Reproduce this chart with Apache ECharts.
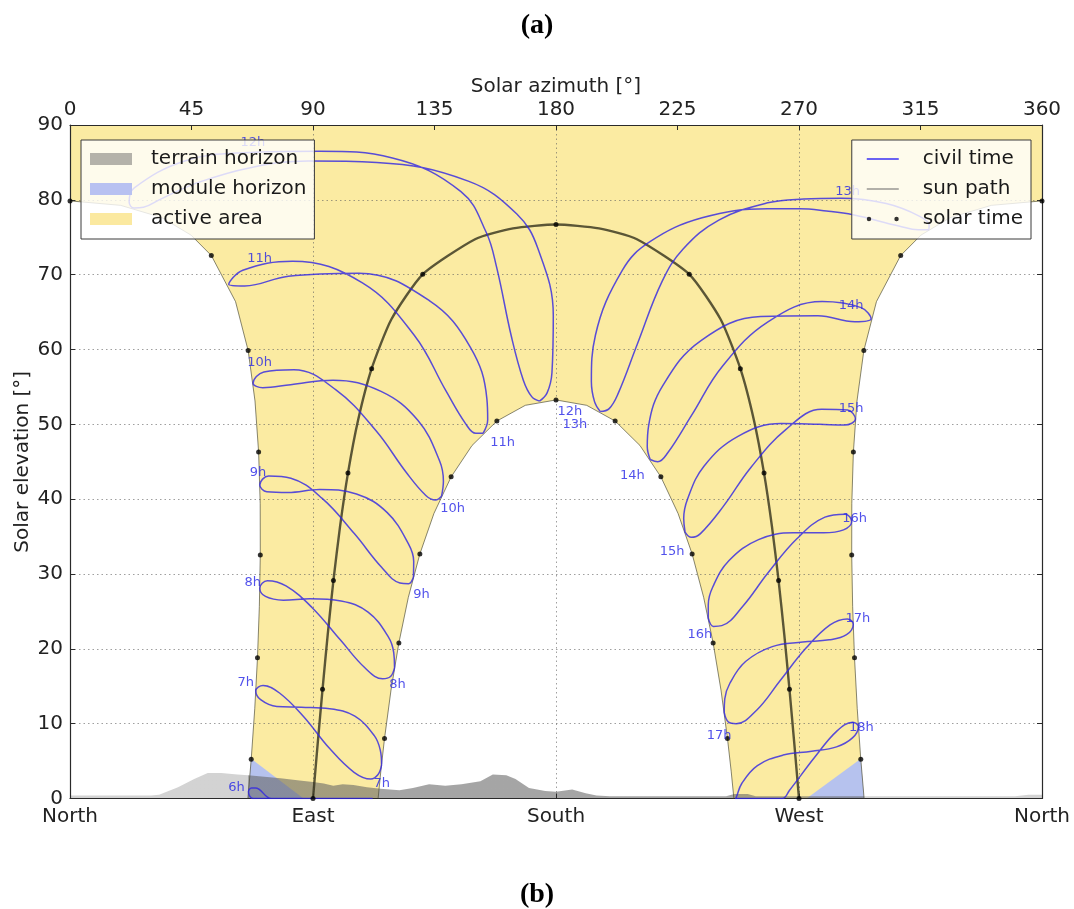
<!DOCTYPE html>
<html>
<head>
<meta charset="utf-8">
<title>Sun path diagram with civil time analemmas</title>
<script src="https://cdn.jsdelivr.net/npm/echarts@6/dist/echarts.min.js"></script>
<style>
  html, body { margin: 0; padding: 0; background: #fff; }
  #chart { width: 1074px; height: 909px; }
</style>
</head>
<body>
<div id="chart"></div>
<script>
// bottom axis compass names (every 90 deg) and top axis ticks (every 45 deg)
var compassNames = ['North', 'East', 'South', 'West', 'North'];

// sun paths [azimuth, elevation] : summer solstice (split at north), equinox, winter solstice
var summerMorning = [[65.88,0],[67.12,5.25],[68.43,12.01],[69.44,18.82],[70.13,25.67],[70.48,32.55],[70.44,39.43],[69.86,46.29],[68.52,53.12],[65.98,59.86],[61.31,66.40],[52.34,72.56],[44.81,75.29],[33.96,77.63],[18.77,79.26],[0,79.86]];
var summerAfternoon = [[360,79.86],[341.23,79.26],[326.04,77.63],[315.19,75.29],[307.66,72.56],[298.69,66.40],[294.02,59.86],[291.48,53.12],[290.14,46.29],[289.56,39.43],[289.52,32.55],[289.87,25.67],[290.56,18.82],[291.57,12.01],[292.88,5.25],[294.12,0]];
var equinoxPath = [[90,0],[91.73,7.30],[93.53,14.59],[95.44,21.86],[97.56,29.12],[100.01,36.33],[102.95,43.48],[106.69,50.55],[111.72,57.44],[119.04,64.04],[130.64,70.05],[150.21,74.77],[164.09,76.19],[180,76.70],[195.91,76.19],[209.79,74.77],[229.36,70.05],[240.96,64.04],[248.28,57.44],[253.31,50.55],[257.05,43.48],[259.99,36.33],[262.44,29.12],[264.56,21.86],[266.47,14.59],[268.27,7.30],[270,0]];
var winterPath = [[114.12,0],[115.12,3.65],[116.49,8.02],[118.89,14.49],[121.80,20.79],[125.31,26.88],[129.58,32.68],[134.79,38.09],[141.16,42.98],[148.90,47.17],[158.10,50.44],[168.64,52.54],[180,53.26],[191.36,52.54],[201.90,50.44],[211.10,47.17],[218.84,42.98],[225.21,38.09],[230.42,32.68],[234.69,26.88],[238.20,20.79],[241.11,14.49],[243.51,8.02],[244.88,3.65],[245.88,0]];

// solar time dots (whole solar hours on the three sun paths)
var summerDots = [[67.12,5.25],[69.44,18.82],[70.48,32.55],[69.86,46.29],[65.98,59.86],[52.34,72.56],[0,79.86],[360,79.86],[307.66,72.56],[294.02,59.86],[290.14,46.29],[289.52,32.55],[290.56,18.82],[292.88,5.25]];
var equinoxDots = [[90,0],[93.53,14.59],[97.56,29.12],[102.95,43.48],[111.72,57.44],[130.64,70.05],[180,76.70],[229.36,70.05],[248.28,57.44],[257.05,43.48],[262.44,29.12],[266.47,14.59],[270,0]];
var winterDots = [[116.49,8.02],[121.80,20.79],[129.58,32.68],[141.16,42.98],[158.10,50.44],[180,53.26],[201.90,50.44],[218.84,42.98],[230.42,32.68],[238.20,20.79],[243.51,8.02]];

// terrain horizon profile [azimuth, elevation]
var terrainHorizon = [[0,0.4],[30,0.4],[33,0.5],[40,1.5],[46,2.6],[51,3.4],[56,3.4],[62,3.2],[66,3.1],[72,2.9],[78,2.7],[85,2.4],[90,2.2],[94,2.0],[97.5,1.7],[101,1.9],[105,1.8],[110,1.5],[115,1.3],[122,1.1],[127,1.4],[133,1.9],[139,1.7],[145,1.9],[152,2.3],[156.6,3.2],[161.6,3.1],[165,2.6],[170,1.4],[176,1.0],[180,0.9],[186,1.2],[191,0.7],[195,0.4],[200,0.3],[243,0.3],[246,0.6],[251,0.6],[254,0.3],[350,0.3],[355,0.5],[360,0.5]];

// module horizon (visible parts inside the active area)
var moduleHorizonEast = [[65.88,0],[67.1,5.3],[86.5,0]];
var moduleHorizonWest = [[272.8,0],[292.9,5.3],[294.12,0]];

// civil time analemmas, one loop per clock hour, starting at the winter solstice
var h06 = [[112.1,0],[111.0,0],[108.3,0],[101.9,0],[92.7,0],[83.0,0],[74.6,0],[68.7,1.4],[67.2,1.4],[66.1,0.9],[67.8,0],[73.5,0],[82.4,0],[92.6,0],[101.8,0],[109.1,0],[111.5,0]];
var h07 = [[115.4,4.5],[114.1,3.2],[111.4,2.6],[105.2,3.5],[96.1,6.7],[86.4,11.0],[77.6,14.1],[71.5,15.1],[68.8,14.4],[70.6,13.2],[76.6,12.3],[85.7,12.2],[96.2,12.0],[105.5,11.0],[112.7,8.4],[114.9,6.5]];
var h08 = [[120.2,17.5],[118.7,16.3],[115.8,16.0],[109.4,17.4],[100.1,21.2],[89.7,25.5],[80.0,28.4],[73.1,29.1],[70.3,28.1],[72.4,27.0],[79.0,26.5],[88.9,26.7],[100.4,26.4],[110.4,24.9],[117.9,21.6],[119.9,19.5]];
var h09 = [[127.2,29.6],[125.4,28.7],[122.2,28.8],[115.4,30.9],[105.3,35.4],[93.4,40.1],[81.8,42.8],[73.6,43.1],[70.3,41.9],[72.9,41.0],[80.7,40.9],[92.5,41.3],[106.1,40.7],[117.5,38.2],[125.4,34.0],[127.3,31.7]];
var h10 = [[137.6,40.4],[135.4,39.9],[131.8,40.5],[124.5,43.6],[113.2,49.2],[98.5,54.6],[82.9,57.3],[71.8,57.0],[67.8,55.5],[71.4,54.9],[81.7,55.3],[97.4,55.9],[115.2,54.4],[128.9,50.5],[136.9,45.1],[138.3,42.4]];
var h11 = [[153.0,48.8],[150.3,48.8],[146.5,50.1],[139.2,54.5],[127.5,61.9],[108.3,68.9],[82.4,71.8],[64.0,70.6],[58.8,68.7],[64.7,68.5],[80.9,69.8],[107.0,70.2],[133.2,66.5],[148.3,60.3],[154.4,53.4],[154.7,50.6]];
var h12 = [[173.9,53.1],[171.0,53.7],[167.9,55.9],[163.5,61.7],[158.0,71.0],[154.1,75.7],[144.8,81.1],[119.4,85.6],[92.5,86.5],[64.1,86.3],[42.5,85.2],[23.8,81.6],[21.9,79.7],[23.7,78.9],[27.2,79.0],[33.6,80.1],[47.3,82.3],[66.8,84.3],[88.3,85.2],[113.6,85.0],[147.5,82.5],[165.5,78.1],[173.3,73.5],[179.0,64.5],[178.5,56.9],[176.7,54.2]];
var h13 = [[196.4,51.7],[194.3,53.0],[193.1,55.7],[194.6,61.9],[204.6,70.6],[214.8,74.4],[234.1,77.6],[258.3,78.8],[270.2,78.8],[280.2,78.5],[290.0,78.0],[307.0,76.5],[314.2,76.0],[318.0,76.0],[318.2,76.6],[314.7,77.8],[302.3,79.5],[285.6,80.2],[271.7,80.1],[258.4,79.6],[240.3,77.3],[227.0,73.4],[219.3,69.1],[210.1,60.7],[203.0,54.1],[199.7,52.1]];
var h14 = [[214.9,45.3],[213.8,47.0],[214.3,49.8],[219.6,55.2],[233.7,61.2],[255.8,64.4],[277.0,64.5],[290.7,63.7],[296.7,64.1],[293.0,65.6],[278.6,66.4],[258.5,63.7],[241.5,57.7],[230.2,51.2],[221.4,46.2],[217.7,45.0]];
var h15 = [[227.8,35.6],[227.3,37.4],[228.7,40.0],[234.8,44.4],[247.4,48.4],[263.4,50.1],[277.6,50.0],[286.9,49.9],[290.9,50.7],[288.0,51.9],[278.4,52.0],[265.1,49.3],[252.1,44.2],[241.9,39.0],[233.5,35.4],[230.1,34.9]];
var h16 = [[236.4,24.1],[236.4,25.9],[238.1,28.3],[244.1,31.8],[255.0,34.6],[267.9,35.5],[279.1,35.5],[286.5,35.9],[289.5,37.0],[287.1,38.0],[279.6,37.6],[269.2,34.7],[258.4,30.1],[249.2,25.7],[241.4,23.1],[238.3,23.0]];
var h17 = [[242.3,11.5],[242.5,13.3],[244.4,15.4],[250.2,18.3],[260.1,20.3],[271.4,20.9],[281.2,21.2],[287.6,21.9],[290.1,23.3],[287.9,24.0],[281.5,23.2],[272.6,20.1],[262.9,15.7],[254.3,11.8],[246.7,10.0],[243.9,10.2]];
var h18 = [[246.3,0],[246.7,0.1],[248.8,2.0],[254.6,4.4],[264.1,5.8],[274.7,6.3],[283.9,6.9],[289.8,8.1],[292.0,9.6],[289.9,10.2],[284.0,9.0],[275.8,5.5],[266.5,1.1],[263.8,0],[258.0,0],[250.5,0],[247.7,0]];

// hour labels [azimuth, elevation, text]
var hourLabels = [
  [61.7,1.5,'6h'],
  [65.1,15.5,'7h'], [115.5,2.0,'7h'],
  [67.7,28.8,'8h'], [121.3,15.2,'8h'],
  [69.6,43.6,'9h'], [130.2,27.2,'9h'],
  [70.2,58.3,'10h'], [141.7,38.7,'10h'],
  [70.2,72.2,'11h'], [160.2,47.5,'11h'],
  [67.7,87.7,'12h'], [185.1,51.7,'12h'],
  [187.0,50.0,'13h'], [288.0,81.1,'13h'],
  [208.3,43.2,'14h'], [289.3,65.9,'14h'],
  [223.0,33.0,'15h'], [289.3,52.1,'15h'],
  [233.3,21.9,'16h'], [290.6,37.4,'16h'],
  [240.4,8.4,'17h'], [291.8,24.0,'17h'],
  [293.1,9.5,'18h']
];

var YELLOW = '#fbeba2';
var FONT = 'DejaVu Sans';

var analemmas = [h06, h07, h08, h09, h10, h11, h12, h13, h14, h15, h16, h17, h18];

// outline of the active area: summer path, top band, winter path back
var activeOutline = summerMorning.concat([[0, 90], [360, 90]], summerAfternoon, winterPath.slice().reverse());
var terrainOutline = [[0, 0]].concat(terrainHorizon, [[360, 0]]);

function polygonSeries(name, outline, z, fillFn, legendColor) {
  return {
    name: name,
    type: 'custom',
    z: z,
    silent: true,
    itemStyle: { color: legendColor },
    data: [outline[0]],
    renderItem: function (params, api) {
      var pts = outline.map(function (p) { return api.coord(p); });
      return { type: 'polygon', shape: { points: pts }, style: { fill: fillFn(api) } };
    }
  };
}

var series = [];

series.push(polygonSeries('active area', activeOutline, 1, function () { return YELLOW; }, YELLOW));

series.push(polygonSeries('module horizon', moduleHorizonEast, 1.2, function () { return 'rgba(178,192,242,0.95)'; }, '#b8c1f1'));
series.push(polygonSeries('module horizon', moduleHorizonWest, 1.2, function () { return 'rgba(178,192,242,0.95)'; }, '#b8c1f1'));

// terrain: lighter where the sun never rises (north of the summer sunrise/sunset azimuths)
series.push(polygonSeries('terrain horizon', terrainOutline, 1.4, function (api) {
  var x0 = api.coord([0, 0])[0];
  var x1 = api.coord([360, 0])[0];
  var a = summerMorning[0][0] / 360;
  var b = summerAfternoon[summerAfternoon.length - 1][0] / 360;
  var light = 'rgba(150,150,150,0.42)';
  var dark = 'rgba(100,100,100,0.58)';
  return new echarts.graphic.LinearGradient(x0, 0, x1, 0, [
    { offset: 0, color: light }, { offset: a, color: light },
    { offset: a + 0.0001, color: dark }, { offset: b, color: dark },
    { offset: b + 0.0001, color: light }, { offset: 1, color: light }
  ], true);
}, '#b4b2aa'));

// sun paths
[summerMorning, summerAfternoon, winterPath].forEach(function (path) {
  series.push({
    name: 'sun path', type: 'line', z: 3, data: path, showSymbol: false, silent: true,
    lineStyle: { color: 'rgba(70,70,50,0.65)', width: 1 }
  });
});
series.push({
  name: 'sun path', type: 'line', z: 3, data: equinoxPath, showSymbol: false, silent: true,
  smooth: 0.2,
  lineStyle: { color: 'rgba(55,52,30,0.82)', width: 2.4 }
});

// civil time analemmas
analemmas.forEach(function (loop) {
  series.push({
    name: 'civil time', type: 'line', z: 4, data: loop.concat([loop[0]]),
    showSymbol: false, silent: true, smooth: 0.4,
    lineStyle: { color: 'rgba(48,36,228,0.8)', width: 1.5 }
  });
});

// solar time dots
series.push({
  name: 'solar time', type: 'scatter', z: 5, silent: true,
  data: summerDots.concat(equinoxDots, winterDots),
  symbolSize: 5, itemStyle: { color: '#000' }
});

// hour labels
series.push({
  name: 'hour labels', type: 'scatter', z: 6, silent: true,
  data: hourLabels, symbolSize: 1, itemStyle: { color: 'transparent' },
  label: {
    show: true, position: 'inside',
    formatter: function (p) { return p.value[2]; },
    color: '#2626e6', fontSize: 13, fontFamily: FONT
  }
});

var axisText = { color: '#222', fontSize: 20, fontFamily: FONT };
var gridLine = { show: true, lineStyle: { color: 'rgba(95,95,95,0.6)', type: [1.5, 3], width: 1 } };
var frameLine = { show: true, onZero: false, lineStyle: { color: '#2a2a2a', width: 1.2 } };
var innerTick = { show: true, inside: true, length: 5, lineStyle: { color: '#2a2a2a' } };

var option = {
  animation: false,
  backgroundColor: '#fff',
  grid: { left: 70, right: 32, top: 125, bottom: 110.5, containLabel: false },
  xAxis: [
    {
      type: 'value', position: 'bottom', min: 0, max: 360, interval: 90, z: 2,
      axisLine: frameLine, axisTick: innerTick, splitLine: gridLine,
      axisLabel: Object.assign({ margin: 8, formatter: function (v) { return compassNames[Math.round(v / 90)]; } }, axisText)
    },
    {
      type: 'value', position: 'top', min: 0, max: 360, interval: 45, z: 2,
      name: 'Solar azimuth [°]', nameLocation: 'middle', nameGap: 28, nameMoveOverlap: false,
      nameTextStyle: axisText,
      axisLine: frameLine, axisTick: innerTick, splitLine: { show: false },
      axisLabel: Object.assign({ margin: 5 }, axisText)
    }
  ],
  yAxis: [
    {
      type: 'value', position: 'left', min: 0, max: 90, interval: 10, z: 2,
      name: 'Solar elevation [°]', nameLocation: 'middle', nameGap: 37, nameRotate: 90, nameMoveOverlap: false,
      nameTextStyle: axisText,
      axisLine: frameLine, axisTick: innerTick, splitLine: gridLine,
      axisLabel: Object.assign({ margin: 7 }, axisText)
    },
    {
      type: 'value', position: 'right', min: 0, max: 90, interval: 10, z: 2,
      axisLine: frameLine, axisTick: innerTick, splitLine: { show: false },
      axisLabel: { show: false }
    }
  ],
  legend: [
    {
      orient: 'vertical', left: 81, top: 140, z: 10, selectedMode: false,
      itemWidth: 42, itemHeight: 12, itemGap: 10,
      padding: [9, 8, 10, 9],
      backgroundColor: 'rgba(255,255,255,0.8)', borderColor: '#3a3a3a', borderWidth: 1,
      textStyle: { color: '#1a1a1a', fontSize: 20, fontFamily: FONT, lineHeight: 20, padding: [0, 0, 0, 14] },
      data: [
        { name: 'terrain horizon', icon: 'rect', itemStyle: { color: '#b4b2aa', borderWidth: 0 } },
        { name: 'module horizon', icon: 'rect', itemStyle: { color: '#b8c1f1', borderWidth: 0 } },
        { name: 'active area', icon: 'rect', itemStyle: { color: '#fbe9a0', borderWidth: 0 } }
      ]
    },
    {
      orient: 'vertical', right: 43, top: 140, z: 10, selectedMode: false,
      itemWidth: 32, itemHeight: 12, itemGap: 10,
      padding: [9, 8, 10, 15],
      backgroundColor: 'rgba(255,255,255,0.8)', borderColor: '#3a3a3a', borderWidth: 1,
      textStyle: { color: '#1a1a1a', fontSize: 20, fontFamily: FONT, lineHeight: 20, padding: [0, 0, 0, 19] },
      data: [
        { name: 'civil time', icon: 'path://M0,0 H32 V2 H0 Z', itemStyle: { color: '#6a62f2', borderWidth: 0 } },
        { name: 'sun path', icon: 'path://M0,0 H32 V1.2 H0 Z', itemStyle: { color: '#666', borderWidth: 0 } },
        { name: 'solar time', icon: 'path://M0.5,3 a2.5,2.5 0 1,0 5,0 a2.5,2.5 0 1,0 -5,0 Z M31.5,3 a2.5,2.5 0 1,0 5,0 a2.5,2.5 0 1,0 -5,0 Z', itemStyle: { color: '#000', borderWidth: 0 } }
      ]
    }
  ],
  graphic: [
    { type: 'text', left: 'center', top: 12, style: { text: '(a)', font: 'bold 28px "Liberation Serif"', fill: '#000' } },
    { type: 'text', left: 'center', top: 881, style: { text: '(b)', font: 'bold 28px "Liberation Serif"', fill: '#000' } }
  ],
  series: series
};

var chart = echarts.init(document.getElementById('chart'));
chart.setOption(option);
</script>
</body>
</html>
